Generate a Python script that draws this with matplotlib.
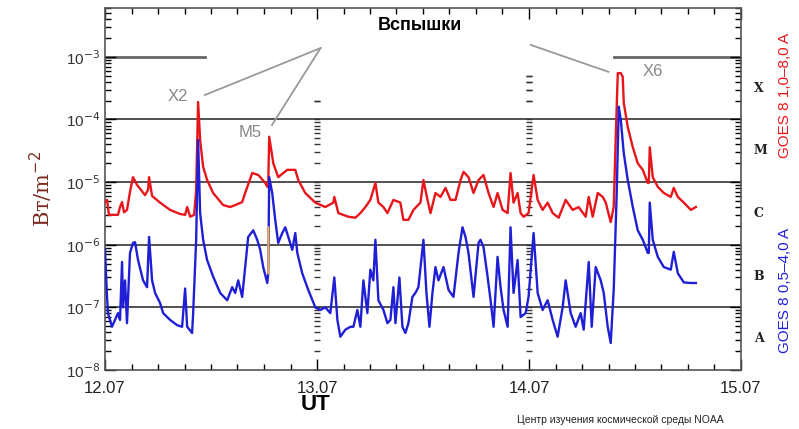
import matplotlib
matplotlib.use('Agg')
import matplotlib.pyplot as plt
import matplotlib.transforms as mtransforms
import numpy as np

# Данные GOES 8: время в часах от 12.07 00:00 UT, поток в Вт/м^2

red_t = [0.0, 0.23, 0.45, 1.47, 1.70, 1.93, 2.15, 2.49, 2.83, 3.17, 3.63, 4.53, 4.87, 4.99,
         5.33, 6.24, 7.37, 8.50, 9.07, 9.30, 9.64, 10.09, 10.32, 10.54, 10.77, 11.11, 11.56,
         12.24, 13.38, 14.17, 14.74, 15.53, 15.87, 16.67, 17.35, 18.14, 18.37, 18.48, 18.59,
         19.05, 19.61, 20.63, 21.54, 21.88, 22.67, 23.81, 24.94, 25.85, 25.96, 26.19, 26.42,
         27.55, 28.34, 28.91, 29.48, 30.04, 30.61, 30.95, 31.52, 31.97, 32.65, 33.44, 33.78,
         34.35, 34.92, 35.71, 36.05, 36.51, 36.85, 37.41, 37.98, 38.55, 39.11, 39.68, 40.25,
         40.59, 41.15, 41.72, 42.29, 42.85, 43.42, 43.99, 44.44, 45.01, 45.58, 45.91, 46.25,
         46.71, 47.05, 47.39, 47.95, 48.52, 48.98, 49.54, 50.11, 50.68, 51.36, 52.15, 52.94,
         53.62, 54.42, 54.76, 55.21, 55.78, 56.35, 56.69, 57.25, 57.59, 57.82, 58.05, 58.39,
         58.61, 58.73, 59.18, 59.75, 60.31, 60.88, 61.45, 61.56, 61.67, 62.01, 62.58, 63.26,
         64.05, 64.39, 64.85, 65.53, 66.32, 66.89]
red_f = [4.8e-6, 5.2e-6, 3.0e-6, 3.0e-6, 4.0e-6, 4.8e-6, 3.3e-6, 3.6e-6, 7.0e-6, 1.2e-5,
         9.0e-6, 6.2e-6, 7.5e-6, 1.2e-5, 6.0e-6, 4.7e-6, 3.6e-6, 3.1e-6, 3.0e-6, 4.0e-6,
         2.8e-6, 3.0e-6, 7.5e-6, 1.9e-4, 4.7e-5, 1.75e-5, 1.08e-5, 6.7e-6, 4.3e-6, 4.0e-6,
         4.3e-6, 4.8e-6, 6.7e-6, 1.4e-5, 1.3e-5, 9.7e-6, 8.4e-6, 9.7e-6, 5.3e-5, 2.0e-5,
         1.2e-5, 1.57e-5, 1.57e-5, 1.08e-5, 6.7e-6, 4.7e-6, 4.0e-6, 4.7e-6, 5.8e-6, 4.3e-6,
         3.2e-6, 2.8e-6, 2.7e-6, 3.2e-6, 4.0e-6, 5.2e-6, 9.7e-6, 4.7e-6, 4.0e-6, 3.2e-6,
         5.2e-6, 4.7e-6, 2.5e-6, 2.5e-6, 3.6e-6, 4.7e-6, 1.08e-5, 5.2e-6, 3.2e-6, 6.7e-6,
         5.8e-6, 8.1e-6, 5.2e-6, 5.2e-6, 1.08e-5, 1.46e-5, 1.2e-5, 6.7e-6, 1.08e-5, 1.3e-5,
         6.7e-6, 4.0e-6, 6.7e-6, 3.6e-6, 3.2e-6, 1.4e-5, 4.7e-6, 6.7e-6, 3.2e-6, 2.8e-6,
         3.2e-6, 1.3e-5, 5.2e-6, 3.6e-6, 4.7e-6, 3.2e-6, 2.7e-6, 5.2e-6, 3.6e-6, 4.0e-6,
         2.8e-6, 5.8e-6, 2.8e-6, 6.7e-6, 5.8e-6, 4.7e-6, 2.3e-6, 4.0e-6, 5.3e-5, 5.5e-4,
         5.5e-4, 4.8e-4, 1.84e-4, 7.6e-5, 3.6e-5, 2.0e-5, 1.57e-5, 9.7e-6, 9.7e-6, 3.6e-5,
         1.2e-5, 8.4e-6, 6.7e-6, 5.8e-6, 8.1e-6, 5.8e-6, 4.7e-6, 3.6e-6, 4.0e-6]

blue_t = [0.0, 0.23, 0.34, 0.79, 1.13, 1.47, 1.70, 1.93, 2.04, 2.27, 2.49, 2.83, 3.17, 3.40,
          3.74, 4.31, 4.76, 4.99, 5.33, 5.67, 6.24, 6.58, 7.37, 8.16, 8.73, 9.07, 9.30, 9.86,
          9.98, 10.32, 10.54, 10.77, 11.11, 11.56, 12.24, 13.04, 13.83, 14.40, 14.74, 15.08,
          15.53, 15.87, 16.21, 16.78, 17.23, 17.57, 17.91, 18.37, 18.48, 18.59, 18.93, 19.27,
          19.61, 20.07, 20.41, 20.75, 21.20, 21.54, 21.77, 22.33, 23.01, 23.81, 24.37, 24.94,
          25.51, 25.96, 26.31, 26.64, 27.21, 27.78, 28.12, 28.57, 28.91, 29.25, 29.70, 30.04,
          30.38, 30.61, 30.95, 31.52, 31.97, 32.31, 32.65, 32.88, 33.33, 33.67, 34.01, 34.35,
          34.80, 35.14, 35.48, 36.05, 36.39, 36.73, 37.07, 37.41, 37.75, 38.32, 38.89, 39.45,
          40.02, 40.47, 40.81, 41.15, 41.72, 42.29, 42.51, 42.85, 43.31, 43.65, 43.99, 44.44,
          44.78, 45.12, 45.58, 45.91, 46.25, 46.71, 47.05, 47.62, 47.95, 48.52, 48.98, 49.54,
          50.11, 50.68, 51.24, 51.81, 52.15, 52.72, 53.28, 53.85, 54.19, 54.76, 55.10, 55.55,
          56.12, 56.46, 56.91, 57.25, 57.59, 57.93, 58.16, 58.39, 58.73, 59.18, 59.75, 60.31,
          60.88, 61.45, 61.56, 61.67, 62.01, 62.58, 63.26, 64.05, 64.39, 64.85, 65.53, 66.32,
          66.89]
blue_f = [8.3e-7, 1.47e-7, 8.1e-8, 4.9e-8, 6.3e-8, 8.1e-8, 6.3e-8, 5.3e-7, 1.0e-7, 2.7e-7,
          5.6e-8, 7.4e-7, 1.07e-6, 1.1e-6, 5.7e-7, 2.7e-7, 2.1e-7, 1.33e-6, 2.7e-7, 1.7e-7,
          1.17e-7, 8.1e-8, 6.3e-8, 5.2e-8, 4.9e-8, 2.0e-7, 4.9e-8, 3.9e-8, 8.1e-8, 1.2e-6,
          4.7e-5, 3.2e-6, 1.2e-6, 5.7e-7, 3.1e-7, 1.7e-7, 1.3e-7, 2.1e-7, 1.7e-7, 2.7e-7,
          1.47e-7, 4.4e-7, 1.33e-6, 1.7e-6, 1.2e-6, 8.3e-7, 4.4e-7, 2.45e-7, 3.5e-7, 1.2e-5,
          6.7e-6, 2.5e-6, 1.07e-6, 1.54e-6, 1.9e-6, 1.33e-6, 8.3e-7, 1.54e-6, 7.4e-7, 3.5e-7,
          1.9e-7, 1.0e-7, 9.1e-8, 1.0e-7, 8.1e-8, 3.0e-7, 6.3e-8, 3.4e-8, 4.4e-8, 4.9e-8,
          4.9e-8, 9.1e-8, 4.9e-8, 2.7e-7, 8.1e-8, 4.0e-7, 2.7e-7, 1.2e-6, 1.3e-7, 9.1e-8,
          5.6e-8, 6.3e-8, 2.1e-7, 5.6e-8, 3.0e-7, 4.9e-8, 3.9e-8, 5.6e-8, 1.47e-7, 1.7e-7,
          2.1e-7, 1.2e-6, 1.7e-7, 4.9e-8, 1.7e-7, 4.4e-7, 2.7e-7, 4.4e-7, 1.9e-7, 1.47e-7,
          7.4e-7, 1.9e-6, 1.33e-6, 7.4e-7, 1.47e-7, 1.07e-6, 1.2e-6, 9.2e-7, 3.1e-7, 1.3e-7,
          4.9e-8, 6.4e-7, 2.1e-7, 9.1e-8, 4.9e-8, 1.9e-6, 1.7e-7, 5.7e-7, 7.0e-8, 8.1e-8,
          1.47e-7, 1.54e-6, 1.7e-7, 9.1e-8, 1.3e-7, 6.3e-8, 3.4e-8, 1.0e-7, 2.7e-7, 8.1e-8,
          4.9e-8, 8.1e-8, 4.4e-8, 5.3e-7, 4.9e-8, 4.4e-7, 2.7e-7, 1.7e-7, 4.9e-8, 2.7e-8,
          1.9e-7, 6.7e-6, 1.6e-4, 9.9e-5, 2.9e-5, 1.08e-5, 4.0e-6, 1.7e-6, 1.2e-6, 7.4e-7,
          7.4e-7, 4.7e-6, 1.2e-6, 6.4e-7, 4.4e-7, 4.0e-7, 7.7e-7, 3.5e-7, 2.5e-7, 2.45e-7,
          2.45e-7]

# оранжевый участок (пропуск данных) во время вспышки M5
gap_t = [18.48, 18.50]
gap_f = [3.5e-7, 1.9e-6]

day_labels = ['12.07', '13.07', '14.07', '15.07']
class_labels = ['X', 'M', 'C', 'B', 'A']

fig = plt.figure(figsize=(7.99, 4.29), dpi=100)
ax = fig.add_axes([105 / 799, 59 / 429, 636 / 799, 362 / 429])
ax.set_yscale('log')
ax.set_xlim(0, 72)
ax.set_ylim(1e-8, 10 ** -2.22)

# уровни классов вспышек
for lev in [1e-4, 1e-5, 1e-6, 1e-7]:
    ax.axhline(lev, color='#333333', lw=1.2, zorder=1)
ax.plot([0, 11.3], [1e-3, 1e-3], color='#666666', lw=2, zorder=1)
ax.plot([57.6, 72], [1e-3, 1e-3], color='#666666', lw=2, zorder=1)

# метки на границах суток
minor_vals = np.concatenate([np.arange(1, 10) * 10.0 ** e for e in range(-8, -3)])
for d, top in [(24, 2.1e-4), (48, 5.1e-4)]:
    vals = np.concatenate([minor_vals, [2e-4, 3e-4, 4e-4, 5e-4]])
    vals = vals[vals <= top]
    ax.plot(np.full(len(vals), d), vals, ls='none', marker='_',
            ms=5, mew=1.0, color='#333333', zorder=1)

ax.plot(red_t, red_f, color='#e8161b', lw=1.7, zorder=3)
ax.plot(blue_t, blue_f, color='#1f1fd6', lw=1.7, zorder=3)
ax.plot(gap_t, gap_f, color='#f5b342', lw=1.4, zorder=4)

ax.set_xticks([0, 24, 48, 72])
ax.set_xticklabels(day_labels, fontsize=12, family='Liberation Sans', color='#222222')
ax.set_xticks(np.arange(0, 73, 3), minor=True)
ax.tick_params(axis='x', which='major', direction='in', length=8, width=1, top=True, pad=8)
ax.tick_params(axis='x', which='minor', direction='in', length=4, width=1, top=True)

ax.set_yticks([10.0 ** e for e in range(-8, -2)])
ax.set_yticklabels(['10$^{%d}$' % e for e in range(-8, -2)], fontsize=11,
                   family='Liberation Sans', color='#333333')
ax.tick_params(axis='y', which='major', direction='in', length=8, width=1, right=True)
ax.tick_params(axis='y', which='minor', direction='in', length=4, width=1, right=True,
               labelleft=False)
for s in ax.spines.values():
    s.set_color('#555555')
    s.set_linewidth(1.2)

ax.set_ylabel('Вт/m$^{-2}$', fontsize=15, family='DejaVu Serif', color='#7a2a1f', labelpad=8)

# классы вспышек справа
trans = mtransforms.blended_transform_factory(ax.transAxes, ax.transData)
for lab, e in zip(class_labels, [-3.5, -4.5, -5.5, -6.5, -7.5]):
    ax.text(1.02, 10 ** e, lab, transform=trans, fontsize=9, fontweight='bold',
            family='DejaVu Serif', va='center', ha='left', color='#222222')

fig.text(785 / 799, 1 - 95 / 429, 'GOES 8 1,0–8,0 A', rotation=90, color='#e8161b',
         fontsize=11, family='Liberation Sans', ha='center', va='center')
fig.text(785 / 799, 1 - 290 / 429, 'GOES 8 0,5–4,0 A', rotation=90, color='#1f1fd6',
         fontsize=11, family='Liberation Sans', ha='center', va='center')

# подписи вспышек
ax.text(35.7, 10 ** -2.5, 'Вспышки', fontsize=13, fontweight='bold', ha='center',
        va='center', family='Liberation Sans')
ax.text(8.3, 10 ** -3.64, 'X2', fontsize=12, color='#888888', ha='center', va='center',
        family='Liberation Sans')
ax.text(16.4, 10 ** -4.21, 'M5', fontsize=12, color='#888888', ha='center', va='center',
        family='Liberation Sans')
ax.text(62.0, 10 ** -3.24, 'X6', fontsize=12, color='#888888', ha='center', va='center',
        family='Liberation Sans')
ax.plot([11.3, 24.4], [10 ** -3.61, 10 ** -2.86], color='#999999', lw=1.3)
ax.plot([18.9, 24.4], [10 ** -4.09, 10 ** -2.86], color='#999999', lw=1.3)
ax.plot([48.2, 57.0], [10 ** -2.81, 10 ** -3.24], color='#999999', lw=1.3)

fig.text(316 / 799, 1 - 405 / 429, 'UT', fontsize=16, fontweight='bold', ha='center',
         va='center', family='Liberation Sans')
fig.text(620 / 799, 1 - 420 / 429, 'Центр изучения космической среды NOAA', fontsize=7.5,
         ha='center', va='center', family='Liberation Sans', color='#222222')

fig.savefig('out.png', dpi=100)
